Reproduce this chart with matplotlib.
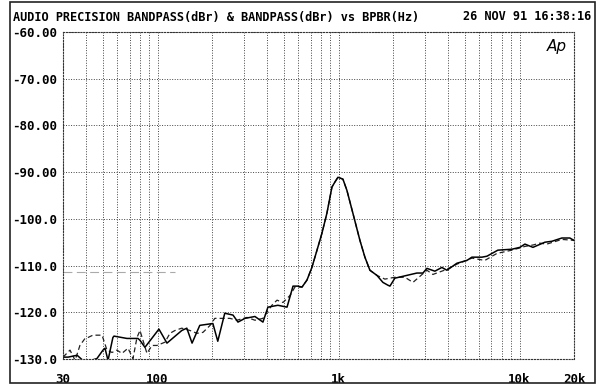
import matplotlib
matplotlib.use("Agg")
import matplotlib.pyplot as plt
from matplotlib.patches import Rectangle
from matplotlib.ticker import FixedLocator, NullFormatter

# trace A (solid)
freq_a = [30, 32, 35.9, 39.7, 46.2, 49.9, 51.2, 53.2, 56.6, 57.4, 67.7, 77.9, 79.9, 85.1,
          101.7, 112.6, 136, 145, 155, 171, 202, 215, 235, 261, 278, 304, 345, 382, 407,
          462, 519, 560, 596, 628, 669, 712, 760, 809, 862, 919, 955, 992, 1057, 1112,
          1200, 1312, 1398, 1490, 1629, 1758, 1873, 1922, 2047, 2385, 2709, 2925, 3078,
          3405, 3723, 3969, 4507, 5118, 5455, 6195, 6604, 7590, 9075, 10050, 10707,
          11860, 13810, 15090, 17140, 18970, 19970]
level_a = [-129.6, -129.6, -129.2, -130.7, -129.9, -128.1, -127.7, -130.3, -125.4, -125.1,
           -125.6, -125.6, -126.0, -127.5, -123.6, -126.6, -123.9, -123.4, -126.6, -122.8,
           -122.4, -126.2, -120.2, -120.6, -122.1, -121.3, -120.9, -122.1, -118.9, -118.5,
           -118.9, -114.4, -114.4, -114.6, -113.1, -110.4, -106.7, -103.1, -98.8, -93.2,
           -92.1, -91.1, -91.5, -93.9, -98.8, -104.6, -108.2, -111.0, -112.1, -113.6,
           -114.2, -114.4, -112.7, -112.1, -111.6, -111.6, -110.6, -111.2, -110.4, -111.0,
           -109.5, -108.9, -108.2, -108.2, -108.0, -106.7, -106.5, -106.1, -105.4, -106.1,
           -105.0, -104.8, -104.1, -104.1, -104.6]

# trace B (dashed)
freq_b = [30, 32.8, 35.0, 37.2, 39.7, 41.2, 43.9, 49.3, 52.5, 56.0, 59.6, 63.5, 68.6, 73.1,
          76.9, 79.9, 87.3, 93.1, 99.2, 109.8, 117, 124.7, 136, 151, 165, 178, 195, 207,
          227, 251, 274, 312, 345, 382, 402, 428, 457, 493, 539, 574, 628, 669, 712, 760,
          809, 862, 919, 955, 992, 1057, 1112, 1200, 1312, 1398, 1490, 1629, 1803, 2047,
          2325, 2577, 3078, 3321, 3969, 4507, 5455, 6431, 7500, 9075, 10707, 11860,
          12950, 14160, 17140, 19970]
level_b = [-129.6, -128.1, -130.3, -127.1, -125.6, -125.4, -124.9, -124.9, -128.1, -128.6,
           -128.1, -128.8, -127.7, -129.9, -125.4, -123.9, -128.8, -127.1, -127.1, -126.4,
           -124.5, -123.9, -123.4, -123.9, -124.5, -124.3, -122.8, -121.3, -121.3, -121.3,
           -121.7, -121.1, -121.7, -121.3, -120.0, -118.5, -117.4, -117.9, -116.4, -114.6,
           -114.6, -113.1, -110.4, -106.7, -103.1, -98.8, -93.2, -92.1, -91.1, -91.5,
           -93.9, -98.8, -104.6, -108.2, -111.0, -112.1, -112.9, -112.5, -112.5, -113.6,
           -111.0, -111.9, -110.8, -109.7, -108.4, -108.9, -107.4, -106.7, -105.9, -105.6,
           -105.2, -105.4, -104.4, -104.6]

# faint reference line at low end
freq_ref = [30, 125]
level_ref = [-111.3, -111.3]

yticks = [-60, -70, -80, -90, -100, -110, -120, -130]
ylabels = ["-60.00", "-70.00", "-80.00", "-90.00", "-100.0", "-110.0", "-120.0", "-130.0"]
xticks = [30, 100, 1000, 10000, 20000]
xlabels = ["30", "100", "1k", "10k", "20k"]
xminor = [40, 50, 60, 70, 80, 90, 200, 300, 400, 500, 600, 700, 800, 900,
          2000, 3000, 4000, 5000, 6000, 7000, 8000, 9000]

mono = "DejaVu Sans Mono"
dotted = (0, (1, 1.6))

fig = plt.figure(figsize=(6, 3.9), dpi=100)
ax = fig.add_axes([63 / 600, 31 / 390, 511 / 600, 327 / 390])

ax.plot(freq_ref, level_ref, color="#aaaaaa", lw=0.8, ls=(0, (8, 4)))
ax.plot(freq_b, level_b, color="#222222", lw=0.9, ls=(0, (4, 2.5)))
ax.plot(freq_a, level_a, color="black", lw=1.1)

ax.set_xscale("log")
ax.set_xlim(30, 20000)
ax.set_ylim(-130, -60)

ax.xaxis.set_major_locator(FixedLocator(xticks))
ax.xaxis.set_minor_locator(FixedLocator(xminor))
ax.xaxis.set_minor_formatter(NullFormatter())
ax.set_xticklabels(xlabels)
ax.set_yticks(yticks)
ax.set_yticklabels(ylabels)

ax.grid(True, which="both", color="#444444", lw=0.7, ls=dotted)
for s in ax.spines.values():
    s.set_linestyle(dotted)
    s.set_linewidth(0.8)
    s.set_color("#333333")

ax.tick_params(which="both", length=0)
ax.tick_params(axis="y", pad=36.5, labelsize=9)
ax.tick_params(axis="x", pad=10, labelsize=9)
for lab in ax.get_yticklabels() + ax.get_xticklabels():
    lab.set_fontfamily(mono)
    lab.set_fontweight("bold")
for lab in ax.get_yticklabels():
    lab.set_horizontalalignment("left")

ax.text(0.985, 0.955, "Ap", transform=ax.transAxes, ha="right", va="center",
        fontsize=11, style="italic", family="DejaVu Sans")

fig.text(13 / 600, 1 - 17 / 390, "AUDIO PRECISION BANDPASS(dBr) & BANDPASS(dBr) vs BPBR(Hz)",
         family=mono, fontweight="bold", fontsize=8.6, va="center", ha="left")
fig.text(591 / 600, 1 - 17 / 390, "26 NOV 91 16:38:16",
         family=mono, fontweight="bold", fontsize=8.6, va="center", ha="right")

fig.patches.append(Rectangle((10 / 600, 7 / 390), 585 / 600, 381 / 390,
                             transform=fig.transFigure, fill=False, lw=1.2, color="#222222"))

fig.savefig("out.png", dpi=100)
